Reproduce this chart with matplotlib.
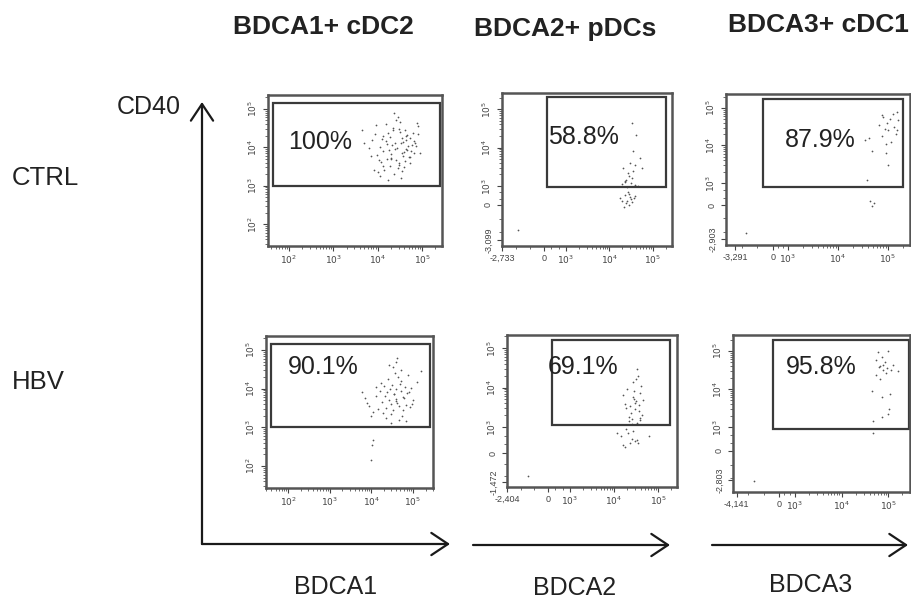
import matplotlib
matplotlib.use("Agg")
import matplotlib.pyplot as plt
import numpy as np
from matplotlib.patches import Rectangle, FancyArrowPatch

plt.rcParams['font.family'] = ['Liberation Sans', 'DejaVu Sans']

W, H = 911, 604

col_titles = ["BDCA1+ cDC2", "BDCA2+ pDCs", "BDCA3+ cDC1"]
row_labels = ["CTRL", "HBV"]
x_markers = ["BDCA1", "BDCA2", "BDCA3"]
y_marker = "CD40"
gate_pct = ["100%", "58.8%", "87.9%", "90.1%", "69.1%", "95.8%"]

# logicle axis minimums (FlowJo labels)
x_min_labels = [None, "-2,733", "-3,291", None, "-2,404", "-4,141"]
y_min_labels = [None, "-3,099", "-2,903", None, "-1,472", "-2,803"]

# events, in decade units of the display axis (4 = 10^4)
ctrl_bdca1_x = [4.40, 4.52, 4.31, 4.65, 4.22, 4.78, 4.48, 4.12, 4.60, 4.35,
                4.70, 4.05, 4.55, 4.28, 4.83, 4.44, 4.18, 4.62, 4.38, 4.90,
                3.98, 4.50, 4.26, 4.73, 4.10, 4.58, 4.34, 4.86, 4.46, 4.02,
                4.67, 4.20, 4.54, 3.88, 4.76, 4.41, 4.15, 4.63, 4.30, 4.92,
                3.80, 4.49, 4.24, 4.69, 4.08, 4.57, 4.36, 4.81, 3.70, 4.45,
                4.13, 4.61, 4.27, 4.74, 3.95, 4.53, 4.32, 4.88, 4.00, 4.66,
                3.64, 4.42, 4.19, 4.59, 3.85, 4.72, 4.37, 4.95, 4.06, 4.47,
                3.96, 4.79, 4.23, 4.64, 3.92, 4.51, 4.29, 4.85, 4.11, 4.56]
ctrl_bdca1_y = [3.95, 4.10, 3.82, 4.20, 3.70, 4.05, 3.60, 4.30, 3.88, 4.45,
                3.75, 4.00, 4.25, 3.52, 4.15, 3.98, 4.60, 3.65, 4.12, 4.35,
                3.80, 4.40, 3.92, 3.58, 4.22, 3.78, 4.50, 4.02, 3.45, 3.68,
                4.32, 4.08, 3.85, 4.18, 3.90, 4.70, 3.40, 4.28, 3.72, 4.55,
                3.98, 3.55, 4.38, 4.02, 3.62, 4.14, 3.30, 3.86, 4.10, 4.80,
                3.50, 4.44, 4.26, 3.74, 4.35, 3.20, 4.06, 4.62, 3.35, 3.94,
                4.45, 3.66, 4.16, 3.48, 3.76, 4.24, 4.88, 3.84, 3.25, 4.48,
                4.58, 4.36, 3.15, 3.96, 3.42, 4.66, 3.70, 4.12, 3.90, 3.38]

ctrl_bdca2_x = [4.53, 4.62, 4.70, 4.55, 4.48, 4.32, 4.74, 4.60, 4.42, 4.52,
                4.36, 4.45, 4.58, 4.40, 4.28, 4.50, 4.66, 4.38, 4.44, 4.35,
                4.47, 4.56, 4.41, 4.30, 4.52, 4.39, 4.46, 4.33, 4.49, 4.43,
                4.37, 4.60, 4.25, 4.55, 1.90]
ctrl_bdca2_y = [4.64, 4.32, 3.72, 3.90, 3.60, 3.46, 3.46, 3.55, 3.35, 3.20,
                3.10, 3.25, 3.02, 2.98, 3.05, 3.08, 3.00, 3.15, 2.80, 2.77,
                2.72, 2.68, 2.62, 2.60, 2.58, 2.55, 2.50, 2.46, 2.66, 2.84,
                3.12, 2.75, 2.70, 3.40, 1.86]

ctrl_bdca3_x = [4.87, 5.17, 5.20, 4.94, 5.00, 4.63, 4.54, 5.15, 5.06, 4.67,
                4.95, 5.00, 4.57, 4.67, 4.71, 4.90, 5.10, 4.98, 5.12, 4.82,
                5.05, 4.88, 5.18, 4.64, 4.96, 2.16]
ctrl_bdca3_y = [4.81, 4.90, 4.68, 4.45, 4.40, 4.20, 4.15, 4.30, 4.10, 3.85,
                3.80, 3.47, 3.07, 2.40, 2.46, 4.75, 4.85, 4.60, 4.50, 4.55,
                4.70, 4.25, 4.40, 2.52, 4.05, 1.67]

hbv_bdca1_x = [4.55, 4.70, 4.42, 4.80, 4.62, 4.38, 4.75, 4.50, 4.66, 4.45,
               4.85, 4.58, 4.33, 4.72, 4.60, 4.48, 4.90, 4.52, 4.68, 4.40,
               4.25, 4.78, 4.64, 4.35, 4.95, 4.56, 4.12, 4.82, 4.46, 4.70,
               4.05, 4.60, 4.30, 5.00, 4.52, 3.95, 4.74, 4.20, 4.88, 4.43,
               3.85, 4.66, 4.15, 5.10, 4.36, 3.78, 4.58, 4.98, 4.28, 4.84,
               4.10, 4.62, 4.00, 5.20, 4.47, 3.90, 4.76, 4.22, 4.54, 4.92,
               4.05, 4.02, 4.00]
hbv_bdca1_y = [3.85, 3.95, 3.70, 4.05, 3.62, 3.90, 3.78, 4.10, 3.55, 3.98,
               3.88, 3.72, 3.80, 4.20, 4.00, 3.60, 3.92, 3.45, 4.12, 4.25,
               3.65, 3.75, 4.30, 3.50, 4.02, 4.40, 3.82, 3.58, 3.35, 4.48,
               3.40, 3.68, 4.08, 3.70, 4.55, 3.55, 3.30, 3.95, 4.35, 4.62,
               3.75, 3.20, 3.48, 4.18, 3.25, 3.92, 4.70, 3.60, 3.38, 3.15,
               4.05, 4.78, 3.28, 4.45, 3.12, 3.62, 3.45, 4.15, 3.85, 3.52,
               2.66, 2.53, 2.15]

hbv_bdca2_x = [4.52, 4.44, 4.62, 4.21, 4.66, 4.36, 4.47, 4.58, 4.40, 4.55,
               4.50, 4.30, 4.60, 4.42, 4.48, 4.25, 4.56, 4.38, 4.64, 4.45,
               4.34, 4.52, 4.28, 4.49, 4.41, 4.57, 4.46, 4.35, 4.60,
               4.06, 4.32, 4.80, 4.21, 4.55, 4.40, 4.28, 4.48, 4.15, 4.36,
               4.44, 4.52, 4.25, 2.05]
hbv_bdca2_y = [4.46, 4.15, 4.04, 3.81, 3.69, 3.53, 3.45, 3.24, 3.20, 4.30,
               4.22, 3.95, 3.85, 3.75, 3.62, 3.58, 3.40, 3.35, 3.30, 3.90,
               3.15, 3.10, 3.48, 3.66, 3.08, 3.55, 3.72, 3.25, 3.18,
               2.84, 2.84, 2.76, 2.54, 2.59, 2.70, 2.95, 2.65, 2.78, 2.60,
               2.90, 2.68, 2.50, 1.76]

hbv_bdca3_x = [5.00, 4.79, 4.86, 4.93, 4.82, 4.97, 5.22, 5.07, 4.75, 4.82,
               4.65, 4.86, 5.05, 5.02, 4.86, 5.00, 4.67, 4.67, 4.90, 4.74,
               4.88, 4.95, 4.80, 5.10, 2.12]
hbv_bdca3_y = [5.00, 4.96, 4.84, 4.72, 4.60, 4.55, 4.48, 4.51, 4.38, 4.25,
               3.96, 3.79, 3.88, 3.47, 3.26, 3.33, 3.16, 2.83, 4.64, 4.75,
               4.50, 4.42, 4.58, 4.62, 1.58]

events = [(ctrl_bdca1_x, ctrl_bdca1_y), (ctrl_bdca2_x, ctrl_bdca2_y),
          (ctrl_bdca3_x, ctrl_bdca3_y), (hbv_bdca1_x, hbv_bdca1_y),
          (hbv_bdca2_x, hbv_bdca2_y), (hbv_bdca3_x, hbv_bdca3_y)]

# layout: frame boxes in pixels (left, top, right, bottom), axis limits, gates
frames = [(268, 95, 442, 246), (502, 93, 672, 246), (726, 94, 910, 245),
          (266, 336, 433, 488), (507, 335, 677, 487), (733, 335, 910, 492)]
xlims = [(1.53, 5.45), (1.53, 5.44), (1.76, 5.44), (1.47, 5.48), (1.57, 5.43), (1.67, 5.47)]
ylims = [(1.43, 5.36), (1.44, 5.42), (1.35, 5.37), (1.43, 5.36), (1.48, 5.33), (1.29, 5.42)]
gates = [(1.64, 5.41, 3.0, 5.16), (2.56, 5.30, 2.97, 5.31), (2.50, 5.30, 2.90, 5.24),
         (1.59, 5.41, 3.0, 5.16), (2.59, 5.27, 3.05, 5.20), (2.53, 5.45, 2.95, 5.29)]
zero_x = [None, 2.49, 2.70, None, 2.50, 2.66]
zero_y = [None, 2.51, 2.41, None, 2.34, 2.37]
minlab_x = [None, 1.53, 1.94, None, 1.57, 1.75]
minlab_y = [None, 1.60, 1.51, None, 1.61, 1.60]
pct_pos = [(1.98, 4.14), (2.59, 4.27), (2.94, 4.15), (2.0, 4.56), (2.5, 4.52), (2.81, 4.58)]


def fx(px):
    return px / W


def fy(py):
    return 1 - py / H


fig = plt.figure(figsize=(W / 100, H / 100), dpi=100)

dec = {2: '$10^2$', 3: '$10^3$', 4: '$10^4$', 5: '$10^5$'}

for i in range(6):
    l, t, r, b = frames[i]
    ax = fig.add_axes([fx(l), fy(b), (r - l) / W, (b - t) / H])
    xs, ys = events[i]
    ax.scatter(xs, ys, s=1.6, c='#555555', linewidths=0)
    ax.set_xlim(*xlims[i])
    ax.set_ylim(*ylims[i])
    g = gates[i]
    ax.add_patch(Rectangle((g[0], g[2]), g[1] - g[0], g[3] - g[2], fill=False,
                           ec='#3a3a3a', lw=1.6))
    ax.text(pct_pos[i][0], pct_pos[i][1], gate_pct[i], fontsize=18,
            color='#222222', va='center', ha='left')
    for s in ax.spines.values():
        s.set_color('#555555')
        s.set_linewidth(1.8)

    if zero_x[i] is None:
        # plain log axes
        ax.set_xticks([2, 3, 4, 5], [dec[k] for k in [2, 3, 4, 5]])
        ax.set_yticks([2, 3, 4, 5], [dec[k] for k in [2, 3, 4, 5]])
        mins = [np.log10(k) + d for d in range(1, 6) for k in range(2, 10)]
        ax.set_xticks([m for m in mins if xlims[i][0] < m < xlims[i][1]], minor=True)
        ax.set_yticks([m for m in mins if ylims[i][0] < m < ylims[i][1]], minor=True)
    else:
        ax.set_xticks([minlab_x[i], zero_x[i], 3, 4, 5],
                      [x_min_labels[i], '0', dec[3], dec[4], dec[5]])
        ax.set_yticks([minlab_y[i], zero_y[i], 3, 4, 5],
                      [y_min_labels[i], '0', dec[3], dec[4], dec[5]])
        mins = [np.log10(k) + d for d in range(3, 6) for k in range(2, 10)]
        lowx = list(np.linspace(xlims[i][0], zero_x[i], 4)[1:]) + \
            list(np.linspace(zero_x[i], 3, 4)[1:-1])
        lowy = list(np.linspace(ylims[i][0], zero_y[i], 4)[1:]) + \
            list(np.linspace(zero_y[i], 3, 4)[1:-1])
        ax.set_xticks([m for m in mins if m < xlims[i][1]] + lowx, minor=True)
        ax.set_yticks([m for m in mins if m < ylims[i][1]] + lowy, minor=True)
        ax.xaxis.get_major_ticks()[0].set_pad(12)

    ax.tick_params(which='major', direction='out', length=3.5, width=0.8,
                   colors='#444444', labelsize=6.5, pad=2)
    ax.tick_params(which='minor', direction='out', length=2, width=0.6, colors='#555555')
    ax.tick_params(axis='y', labelrotation=90, pad=3)
    for lab in ax.get_yticklabels():
        lab.set_va('center')

# column titles
title_pos = [(323, 27), (565, 29), (818, 25)]
for (x, y), txt in zip(title_pos, col_titles):
    fig.text(fx(x), fy(y), txt, fontsize=19, fontweight='bold', ha='center',
             va='center', color='#222222')

# row labels
for y, txt in zip([178, 382], row_labels):
    fig.text(fx(12), fy(y), txt, fontsize=18.5, ha='left', va='center', color='#222222')

fig.text(fx(117), fy(107), y_marker, fontsize=18, ha='left', va='center', color='#222222')

# marker labels below arrows
for (x, y), txt in zip([(336, 587), (575, 588), (811, 585)], x_markers):
    fig.text(fx(x), fy(y), txt, fontsize=18, ha='center', va='center', color='#222222')

# axis arrows
arrow_style = '->,head_length=0.6,head_width=0.4'
arrows = [((202, 544), (202, 102)), ((202, 544), (450, 544)),
          ((473, 545), (670, 545)), ((712, 545), (908, 545))]
for (x0, y0), (x1, y1) in arrows:
    a = FancyArrowPatch((fx(x0), fy(y0)), (fx(x1), fy(y1)), transform=fig.transFigure,
                        arrowstyle=arrow_style, mutation_scale=20, lw=1.6,
                        color='#1a1a1a', shrinkA=0, shrinkB=0)
    fig.add_artist(a)

fig.savefig('out.png', dpi=100)
